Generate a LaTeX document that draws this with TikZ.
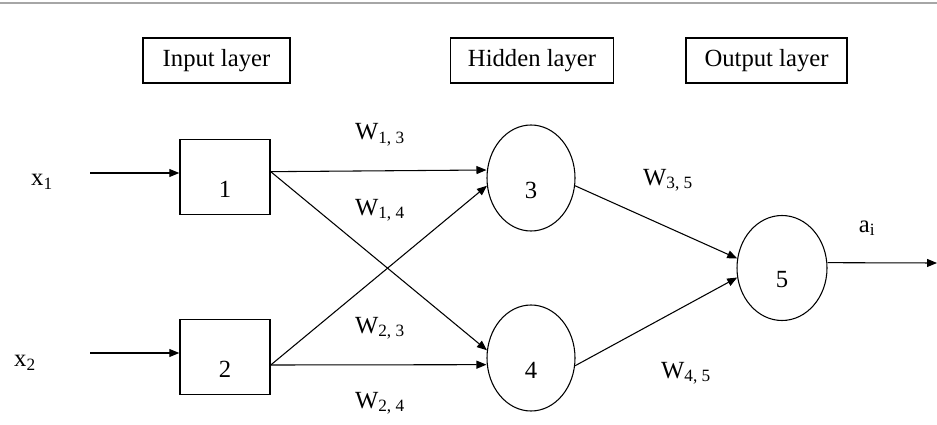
\documentclass[tikz,border=0pt]{standalone}
\usepackage{fontspec}
\setmainfont{Liberation Serif}
\usepackage{tikz}
\usetikzlibrary{shapes.geometric,arrows.meta}

\begin{document}
\begin{tikzpicture}[x=0.75pt,y=-0.75pt,
		font=\fontsize{18.5}{22}\selectfont,
		capa/.style={draw,line width=0.9pt,minimum height=33.75pt,inner sep=0pt},
		caja/.style={draw,line width=1.1pt,minimum width=67.5pt,minimum height=56.25pt,inner sep=0pt},
		neurona/.style={draw,ellipse,line width=0.8pt,minimum width=66pt,minimum height=79.5pt,inner sep=0pt},
		num/.style={yshift=-9pt},
		flecha/.style={line width=0.8pt,-{Triangle[length=7.5pt,width=6pt]}}]
		\useasboundingbox (0,0) rectangle (937,424);
		
		% línea superior
		\draw[gray!70,line width=1.5pt] (0,3) -- (937,3);
		
		% títulos de las capas
		\node[capa,minimum width=110.25pt] (tin) at (216.5,60.5) {Input layer};
		\node[capa,minimum width=122.25pt] (thid) at (532,60.5) {Hidden layer};
		\node[capa,minimum width=120.75pt] (tout) at (766.5,60.5) {Output layer};
		
		% neuronas
		\node[caja] (in1) at (225,177) {};
		\node[caja] (in2) at (225,357) {};
		\node[neurona] (h3) at (531,178) {};
		\node[neurona] (h4) at (531,358) {};
		\node[neurona,minimum width=67.5pt,minimum height=78.75pt] (o5) at (782,268) {};
		
		% números dentro de cada neurona
		\foreach \n/\k in {in1/1,in2/2,h3/3,h4/4,o5/5}
			\node[num] (n\k) at (\n.center) {\k};
		
		% entradas y salida
		\coordinate (x1c) at (90,173);
		\coordinate (x2c) at (90,353);
		\coordinate (salida) at (937,263);
		\node (x1) at (42,182) {x\textsubscript{1}};
		\node (x2) at (25,363) {x\textsubscript{2}};
		\node (ai) at (867,228) {a\textsubscript{i}};
		\draw[flecha] (x1c) -- ([yshift=3pt]in1.west);
		\draw[flecha] (x2c) -- ([yshift=3pt]in2.west);
		\draw[flecha] ([yshift=4pt]o5.east) -- (salida);
		
		% conexiones
		\draw[flecha] ([yshift=4pt]in1.east) -- ([yshift=6pt]h3.west);
		\draw[flecha] ([yshift=4pt]in1.east) -- (h4.170);
		\draw[flecha] ([yshift=-6pt]in2.east) -- (h3.190);
		\draw[flecha] ([yshift=-6pt]in2.east) -- ([yshift=-5pt]h4.west);
		\draw[flecha] (h3.-10) -- (o5.168);
		\draw[flecha] (h4.-10) -- (o5.192);
		
		% pesos
		\foreach \p/\x/\y in {{1, 3}/380/135,{1, 4}/380/210,{2, 3}/380/328,{2, 4}/380/403,{3, 5}/668/180,{4, 5}/686/373}
			\node at (\x,\y) {W\textsubscript{\p}};
	\end{tikzpicture}
\end{document}
